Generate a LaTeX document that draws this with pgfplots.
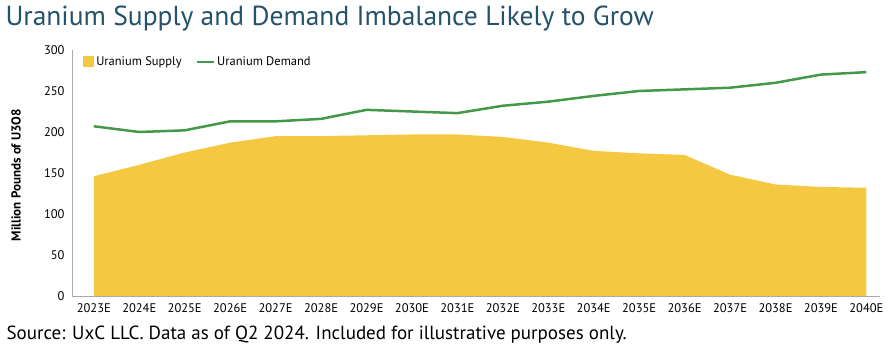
\documentclass[border=0pt]{standalone}
\usepackage{pgfplots}
\pgfplotsset{compat=1.18}
\usepackage{fontspec}
\setmainfont{PT Sans}
\definecolor{titleblue}{RGB}{36,82,106}
\definecolor{demgreen}{RGB}{67,152,74}
\definecolor{supyellow}{RGB}{245,200,66}
\definecolor{axgray}{RGB}{170,170,170}
\begin{document}
\begin{tikzpicture}[x=1pt,y=1pt]
\path[use as bounding box] (0,0) rectangle (894,350);
\node[anchor=west,text=titleblue,font=\fontsize{27.5}{30}\selectfont] at (2,331) {Uranium Supply and Demand Imbalance Likely to Grow};
\node[anchor=west,font=\fontsize{19}{21}\selectfont] at (3,15) {Source: UxC LLC. Data as of Q2 2024. Included for illustrative purposes only.};
\node[rotate=90,font=\bfseries\fontsize{13}{15}\selectfont] at (16,175) {Million Pounds of U3O8};
\begin{axis}[
  at={(72pt,54pt)}, anchor=south west,
  scale only axis, width=808pt, height=246pt,
  xmin=-0.48, xmax=17.3, ymin=0, ymax=300,
  ytick={0,50,...,300},
  xtick={0,...,17},
  xticklabels={2023E,2024E,2025E,2026E,2027E,2028E,2029E,2030E,2031E,2032E,2033E,2034E,2035E,2036E,2037E,2038E,2039E,2040E},
  axis lines*=left,
  axis line style={axgray, line width=0.8pt},
  major tick length=0pt,
  tick label style={font=\fontsize{12.5}{14}\selectfont},
  /pgf/number format/assume math mode=true,
  yticklabel style={xshift=-4pt},
  xticklabel style={yshift=-4pt},
  legend style={draw=none, fill=none, at={(0.01,0.99)}, anchor=north west, font=\fontsize{12.5}{14}\selectfont, legend columns=2, /tikz/every even column/.append style={column sep=12pt}},
  legend cell align=left,
]
\addplot[fill=supyellow, draw=none, legend image code/.code={\fill[supyellow] (0pt,-5.5pt) rectangle (11pt,5.5pt);}] coordinates {
(0,146) (1,160) (2,175) (3,187) (4,195) (5,195) (6,196) (7,197) (8,197) (9,194) (10,187) (11,177) (12,174) (13,172) (14,148) (15,136) (16,133) (17,132)} \closedcycle;
\addlegendentry{Uranium Supply}
\addplot[demgreen, line width=2.5pt, line join=round] coordinates {
(0,207) (1,200) (2,202) (3,213) (4,213) (5,216) (6,227) (7,225) (8,223) (9,232) (10,237) (11,244) (12,250) (13,252) (14,254) (15,260) (16,270) (17,273)};
\addlegendentry{Uranium Demand}
\end{axis}
\end{tikzpicture}
\end{document}
